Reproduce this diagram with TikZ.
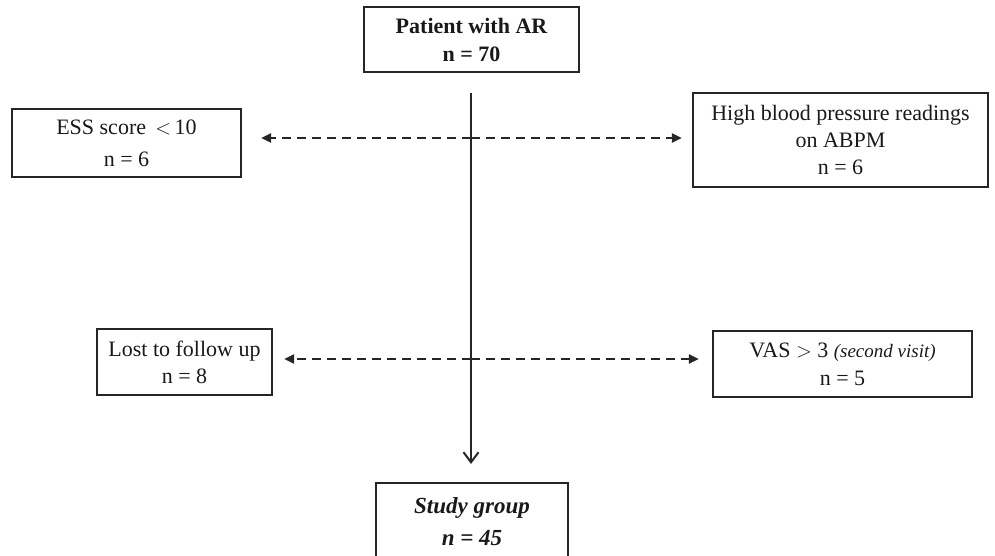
\documentclass[tikz,border=0pt]{standalone}
\usepackage{fontspec}
\setmainfont{Liberation Serif}
\usetikzlibrary{arrows.meta}
\tikzset{
  box/.style={draw=black!85, line width=2.2pt, align=center, inner sep=0pt, font=\fontsize{22}{27}\selectfont, text=black!90},
  dasharrow/.style={draw=black!85, line width=2.4pt, dash pattern=on 9pt off 6pt, -{Triangle[length=10pt,width=9pt]}},
  mainarrow/.style={draw=black!85, line width=2.2pt, -{Straight Barb[length=10pt,width=15pt,line width=2pt]}}
}
\begin{document}
\begin{tikzpicture}[x=1pt,y=-1pt]
\useasboundingbox (0,0) rectangle (995,555);
\clip (0,0) rectangle (995,555);
\node[box, minimum width=215pt, minimum height=65pt, font=\fontsize{22}{28}\selectfont\bfseries] (top) at (471.5,39.5) {Patient with AR\\n = 70};
\node[box, minimum width=229pt, minimum height=68pt, font=\fontsize{22}{32}\selectfont] (ess) at (126.5,143) {ESS score \,$<$\,10\\n = 6};
\node[box, minimum width=295pt, minimum height=94pt, font=\fontsize{22}{27}\selectfont] (hbp) at (840.5,140) {High blood pressure readings\\on ABPM\\n = 6};
\node[box, minimum width=175pt, minimum height=66pt, font=\fontsize{22}{27}\selectfont] (lost) at (184.5,362) {Lost to follow up\\n = 8};
\node[box, minimum width=259pt, minimum height=66pt, font=\fontsize{22}{28}\selectfont] (vas) at (842.5,364) {VAS $>$ 3 {\itshape\fontsize{19}{28}\selectfont(second visit)}\\n = 5};
\node[box, minimum width=192pt, minimum height=77pt, font=\fontsize{23}{32}\selectfont\bfseries\itshape] (study) at (472,521.5) {Study group\\n = 45};
\coordinate (c1) at (471,138);
\coordinate (c2) at (471,359);
\draw[mainarrow, shorten <=20pt, shorten >=18pt] (top.south -| c1) -- (study.north -| c1);
\draw[dasharrow, shorten >=19pt] (c1) -- (c1 -| ess.east);
\draw[dasharrow, shorten >=10pt] (c1) -- (c1 -| hbp.west);
\draw[dasharrow, shorten >=11pt] (c2) -- (c2 -| lost.east);
\draw[dasharrow, shorten >=13pt] (c2) -- (c2 -| vas.west);
\end{tikzpicture}
\end{document}
